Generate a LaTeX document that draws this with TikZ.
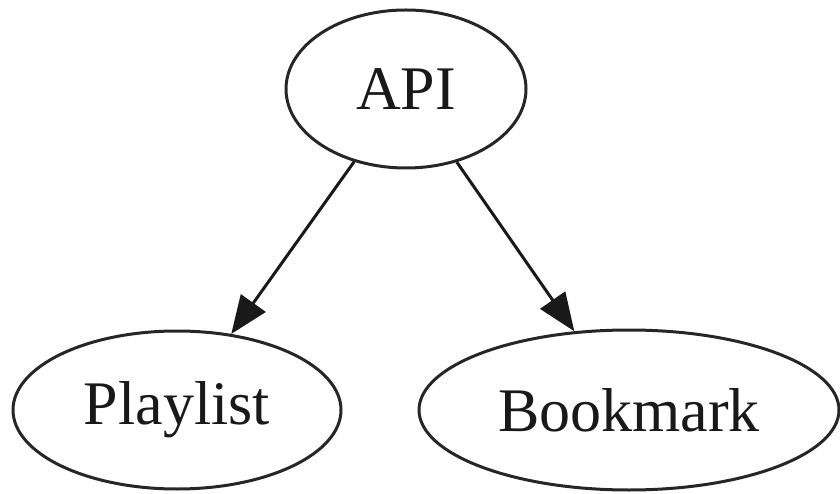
\documentclass[tikz,border=0pt]{standalone}
\usepackage{fontspec}
\setmainfont{Liberation Serif}
\usetikzlibrary{shapes.geometric,arrows.meta}
\begin{document}
\begin{tikzpicture}[x=1pt,y=1pt,
  gnode/.style={ellipse,draw=black!85,line width=3pt,inner sep=0pt,font=\fontsize{62}{70}\selectfont,text=black!90},
  gedge/.style={draw=black!90,line width=3pt,-{Triangle[length=38pt,width=30pt]}}]
\useasboundingbox (0,0) rectangle (840,493);
\node[gnode,minimum width=240pt,minimum height=158pt] (api) at (406,404) {API};
\node[gnode,minimum width=328pt,minimum height=158pt] (pl) at (177,83) {Playlist};
\node[gnode,minimum width=420pt,minimum height=160pt] (bm) at (629,83) {Bookmark};
\draw[gedge] (api) -- (pl);
\draw[gedge] (api) -- (bm);
\end{tikzpicture}
\end{document}
